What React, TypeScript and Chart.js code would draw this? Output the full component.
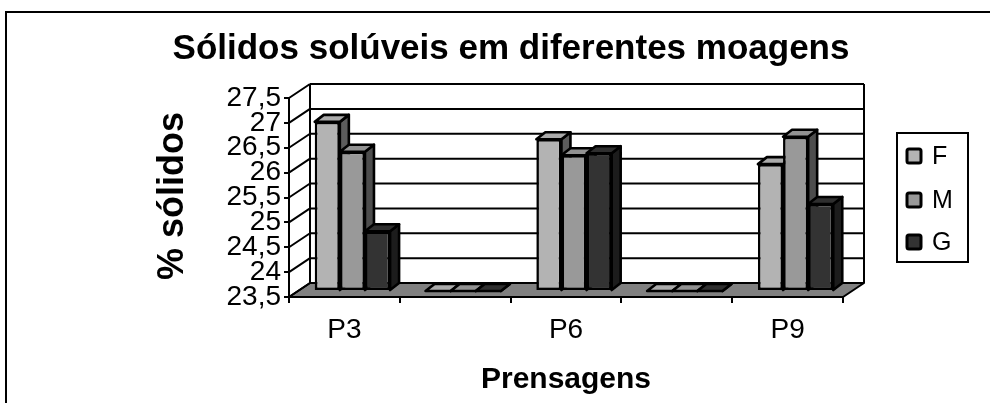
import React, { useEffect, useRef } from "react";
import { Chart, registerables } from "chart.js";

Chart.register(...registerables);

const categories = ["P3", "", "P6", "", "P9"];
const seriesNames = ["F", "M", "G"];
const seriesF = [26.9, 23.5, 26.55, 23.5, 26.05];
const seriesM = [26.3, 23.5, 26.23, 23.5, 26.6];
const seriesG = [24.7, 23.5, 26.27, 23.5, 25.25];
const yMin = 23.5;
const yMax = 27.5;
const yStep = 0.5;
const titleText = "Sólidos solúveis em diferentes moagens";
const yTitleText = "% sólidos";
const xTitleText = "Prensagens";

const FONT = '"Liberation Sans", Arial, Helvetica, sans-serif';
const frontColors = ["#b3b3b3", "#999999", "#333333"];
const sideColors = ["#5c5c5c", "#4d4d4d", "#1c1c1c"];
const topColors = ["#ababab", "#929292", "#2f2f2f"];

const WALL = { dx: 21, dy: -14 };
const SHIFT = { dx: 8, dy: -6 };
const BAR = { dx: 9, dy: -7 };
const BAR_LINE = 2.6;

const threeD = {
  id: "threeD",
  beforeDatasetsDraw(chart: any) {
    const ctx = chart.ctx;
    const a = chart.chartArea;
    const ys = chart.scales.y;
    ctx.save();
    ctx.lineJoin = "round";
    // floor
    ctx.beginPath();
    ctx.moveTo(a.left, a.bottom);
    ctx.lineTo(a.right, a.bottom);
    ctx.lineTo(a.right + WALL.dx, a.bottom + WALL.dy);
    ctx.lineTo(a.left + WALL.dx, a.bottom + WALL.dy);
    ctx.closePath();
    ctx.fillStyle = "#808080";
    ctx.fill();
    ctx.strokeStyle = "#000";
    ctx.lineWidth = 2;
    ctx.stroke();
    // back wall gridlines and left wall diagonals
    ys.ticks.forEach((t: any) => {
      const yf = ys.getPixelForValue(t.value);
      const yb = yf + WALL.dy;
      ctx.beginPath();
      ctx.moveTo(a.left + WALL.dx, yb);
      ctx.lineTo(a.right + WALL.dx, yb);
      ctx.moveTo(a.left, yf);
      ctx.lineTo(a.left + WALL.dx, yb);
      ctx.stroke();
    });
    ctx.beginPath();
    ctx.moveTo(a.left + WALL.dx, a.top + WALL.dy);
    ctx.lineTo(a.left + WALL.dx, a.bottom + WALL.dy);
    ctx.moveTo(a.right + WALL.dx, a.top + WALL.dy);
    ctx.lineTo(a.right + WALL.dx, a.bottom + WALL.dy);
    ctx.moveTo(a.left, a.top);
    ctx.lineTo(a.left, a.bottom);
    ctx.stroke();
    // bar top & side faces
    const faces: any[] = [];
    chart.data.datasets.forEach((ds: any, di: number) => {
      const meta = chart.getDatasetMeta(di);
      meta.data.forEach((el: any) => {
        const p = el.getProps(["x", "y", "base", "width"], true);
        faces.push({ ...p, di });
      });
    });
    faces.sort((p, q) => p.x - q.x);
    faces.forEach((p) => {
      const L = p.x - p.width / 2 + SHIFT.dx;
      const R = p.x + p.width / 2 + SHIFT.dx;
      const T = Math.min(p.y, p.base) + SHIFT.dy;
      const B = Math.max(p.y, p.base) + SHIFT.dy;
      ctx.lineWidth = BAR_LINE;
      ctx.strokeStyle = "#000";
      ctx.beginPath();
      ctx.moveTo(R, T);
      ctx.lineTo(R + BAR.dx, T + BAR.dy);
      ctx.lineTo(R + BAR.dx, B + BAR.dy);
      ctx.lineTo(R, B);
      ctx.closePath();
      ctx.fillStyle = sideColors[p.di];
      ctx.fill();
      ctx.stroke();
      ctx.beginPath();
      ctx.moveTo(L, T);
      ctx.lineTo(L + BAR.dx, T + BAR.dy);
      ctx.lineTo(R + BAR.dx, T + BAR.dy);
      ctx.lineTo(R, T);
      ctx.closePath();
      ctx.fillStyle = topColors[p.di];
      ctx.fill();
      ctx.stroke();
    });
    ctx.restore();
    ctx.save();
    ctx.translate(SHIFT.dx, SHIFT.dy);
  },
  afterDatasetsDraw(chart: any) {
    chart.ctx.restore();
  },
  afterDraw(chart: any) {
    const ctx = chart.ctx;
    ctx.save();
    ctx.fillStyle = "#000";
    ctx.strokeStyle = "#000";
    ctx.lineWidth = 2;
    // outer frame
    ctx.strokeRect(6, 12, 1000, 420);
    // title
    ctx.textAlign = "center";
    ctx.textBaseline = "middle";
    ctx.font = `bold 35px ${FONT}`;
    ctx.fillText(titleText, 511, 49);
    // x title
    ctx.font = `bold 30px ${FONT}`;
    ctx.fillText(xTitleText, 566, 380);
    // y title
    ctx.save();
    ctx.translate(173, 196);
    ctx.rotate(-Math.PI / 2);
    ctx.font = `bold 36px ${FONT}`;
    ctx.fillText(yTitleText, 0, 0);
    ctx.restore();
    // legend
    ctx.lineWidth = 2;
    ctx.strokeRect(897, 133, 71, 129);
    const ys = [156, 200, 242];
    chart.data.datasets.forEach((ds: any, i: number) => {
      const cy = ys[i];
      ctx.beginPath();
      ctx.roundRect(907, cy - 7, 14, 14, 2);
      ctx.fillStyle = ds.backgroundColor;
      ctx.fill();
      ctx.lineWidth = 3;
      ctx.strokeStyle = "#000";
      ctx.stroke();
      ctx.fillStyle = "#000";
      ctx.font = `25px ${FONT}`;
      ctx.textAlign = "left";
      ctx.textBaseline = "middle";
      ctx.fillText(ds.label, 932, cy + 1);
    });
    ctx.restore();
  },
};

export default function App() {
  const ref = useRef<HTMLCanvasElement | null>(null);
  useEffect(() => {
    document.body.style.margin = "0";
    const canvas = ref.current!;
    const seriesValues = [seriesF, seriesM, seriesG];
    const chart = new Chart(canvas, {
      type: "bar",
      data: {
        labels: categories,
        datasets: seriesNames.map((name, i) => ({
          label: name,
          data: seriesValues[i],
          base: yMin,
          backgroundColor: frontColors[i],
          borderColor: "#000",
          borderWidth: BAR_LINE,
          borderSkipped: false,
          categoryPercentage: 0.68,
          barPercentage: 1,
          clip: false,
        })),
      },
      options: {
        responsive: false,
        animation: false,
        devicePixelRatio: 1,
        layout: { padding: { left: 0, top: 98, right: 147, bottom: 0 } },
        plugins: {
          legend: { display: false },
          title: { display: false },
          tooltip: { enabled: false },
        },
        scales: {
          x: {
            afterFit: (s: any) => {
              s.height = 106;
            },
            grid: {
              offset: true,
              drawOnChartArea: false,
              drawTicks: true,
              tickLength: 6,
              color: "#000",
              lineWidth: 2,
            },
            border: { display: true, color: "#000", width: 2 },
            ticks: {
              autoSkip: false,
              maxRotation: 0,
              color: "#000",
              padding: 10,
              font: { family: FONT, size: 28 },
            },
          },
          y: {
            min: yMin,
            max: yMax,
            beginAtZero: false,
            afterFit: (s: any) => {
              s.width = 289;
            },
            grid: {
              drawOnChartArea: false,
              drawTicks: true,
              tickLength: 5,
              color: "#000",
              lineWidth: 2,
            },
            border: { display: true, color: "#000", width: 2 },
            ticks: {
              stepSize: yStep,
              autoSkip: false,
              color: "#000",
              padding: 3,
              font: { family: FONT, size: 28 },
              callback: (v: any) => String(v).replace(".", ","),
            },
          },
        },
      },
      plugins: [threeD],
    });
    return () => chart.destroy();
  }, []);
  return (
    <canvas
      ref={ref}
      width={990}
      height={403}
      style={{ display: "block", width: 990, height: 403 }}
    />
  );
}
